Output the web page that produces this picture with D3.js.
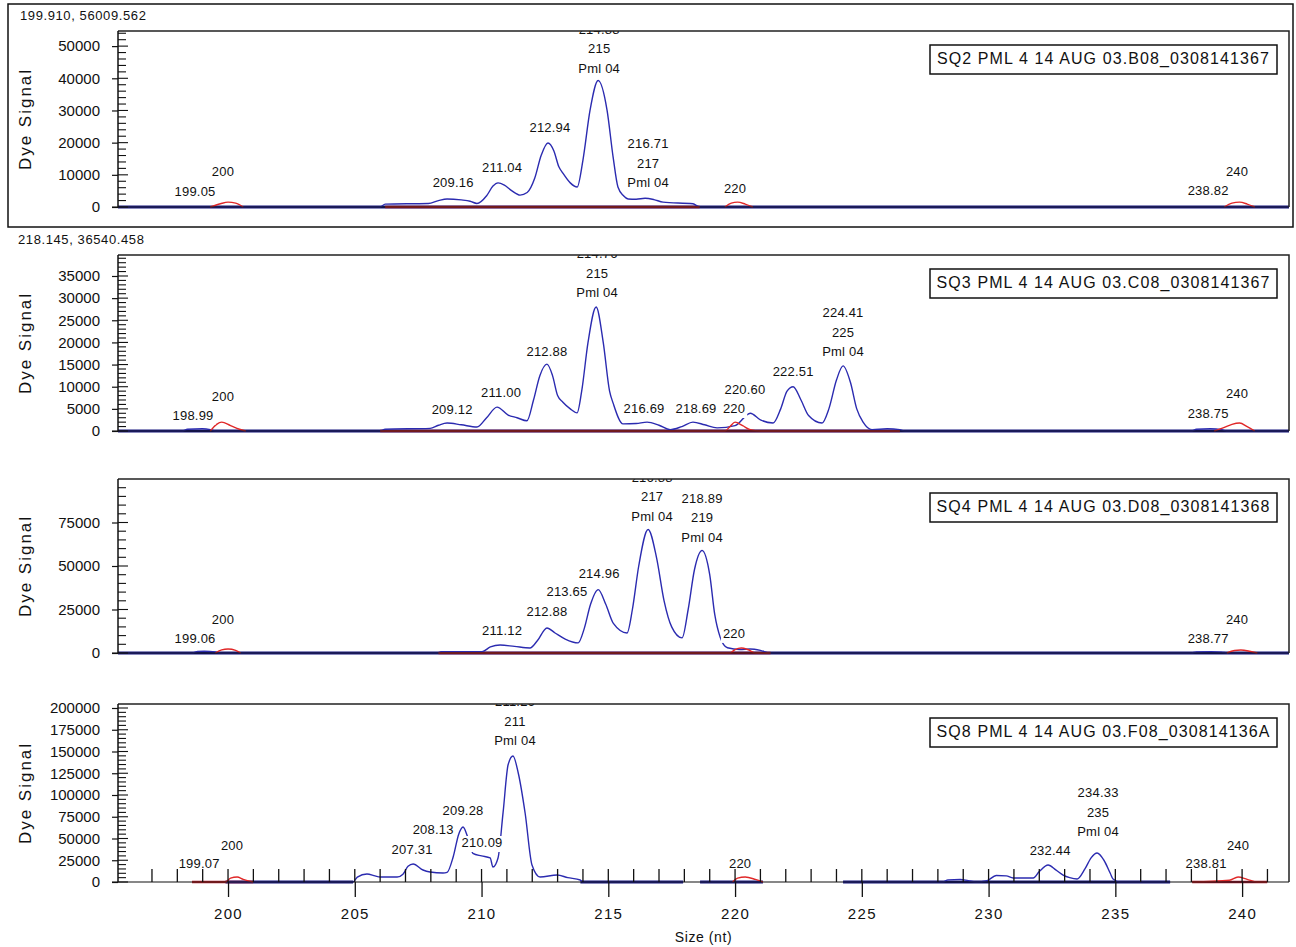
<!DOCTYPE html>
<html>
<head>
<meta charset="utf-8">
<script src="https://cdn.jsdelivr.net/npm/d3@7"></script>
<style>
  body { margin: 0; background: #fff; }
  svg text { font-family: "Liberation Sans", Arial, sans-serif; fill: #111; }
</style>
</head>
<body>
<svg id="chart" width="1296" height="947"></svg>
<script>
// ---- data ----
const sizeDomain = [195.66, 241.85];
const xTickLabels = [200, 205, 210, 215, 220, 225, 230, 235, 240];

const sampleNames = [
  "SQ2 PML 4 14 AUG 03.B08_0308141367",
  "SQ3 PML 4 14 AUG 03.C08_0308141367",
  "SQ4 PML 4 14 AUG 03.D08_0308141368",
  "SQ8 PML 4 14 AUG 03.F08_030814136A"
];
const headerTexts = ["199.910, 56009.562", "218.145, 36540.458", "", ""];

const yMaxima = [54700, 39740, 100000, 204600];
const yTickValues = [
  [0, 10000, 20000, 30000, 40000, 50000],
  [0, 5000, 10000, 15000, 20000, 25000, 30000, 35000],
  [0, 25000, 50000, 75000],
  [0, 25000, 50000, 75000, 100000, 125000, 150000, 175000, 200000]
];
const yMinorSteps = [2000, 1000, 5000, 5000];

// blue dye traces [size (nt), signal]; null = no trace drawn
const blueSQ2 = [[195.66,0],[206.0,0],[206.2,900],[207.9,1100],[208.3,2000],[208.64,2500],[209.2,2200],[209.55,1800],[209.82,1100],
  [210.2,3500],[210.45,6500],[210.65,7500],[210.9,6800],[211.2,5000],[211.52,3700],[211.8,4500],[212.1,9000],[212.35,16000],
  [212.62,19900],[212.85,17500],[213.05,12500],[213.21,10500],[213.5,7500],[213.77,6200],[214.0,14600],[214.28,30100],
  [214.6,39300],[214.95,30100],[215.19,15500],[215.38,6200],[215.6,3500],[215.78,2500],[216.1,2400],[216.45,2700],
  [216.8,2300],[217.16,1500],[218.34,1000],[218.6,0],[241.85,0]];
const blueSQ3 = [[195.66,0],[198.2,0],[198.4,400],[198.99,500],[199.3,300],[199.5,0],[206.0,0],[206.2,400],[207.97,600],
  [208.3,1300],[208.64,1800],[209.2,1400],[209.82,900],[210.2,3000],[210.61,5400],[211.05,3600],[211.4,3000],[211.79,2300],
  [212.05,7000],[212.3,12500],[212.58,15100],[212.8,12500],[213.0,8000],[213.21,6500],[213.5,5000],[213.77,4100],
  [213.95,9000],[214.2,20000],[214.52,28000],[214.8,20000],[215.05,9000],[215.19,6300],[215.58,1600],[216.1,1700],
  [216.53,2000],[217.0,1300],[217.44,300],[217.9,1000],[218.34,2000],[218.8,1400],[219.29,700],[220.0,1200],[220.6,4000],
  [221.0,2500],[221.5,1800],[221.8,5000],[222.05,9000],[222.29,10000],[222.6,7000],[222.9,3500],[223.43,1800],[223.7,5000],
  [224.0,11500],[224.26,14700],[224.55,11000],[224.8,5000],[225.05,2000],[225.4,300],[226.0,500],[226.5,300],[226.7,0],
  [238.0,0],[238.2,400],[238.75,500],[239.2,300],[239.4,0],[241.85,0]];
const blueSQ4 = [[195.66,0],[198.6,0],[198.8,900],[199.06,1000],[199.5,600],[199.7,0],[208.3,0],[208.4,700],[210.02,800],
  [210.35,3500],[210.73,4600],[211.3,3800],[211.91,2900],[212.2,7000],[212.58,14400],[212.9,11500],[213.3,8000],[213.81,5800],
  [214.05,14000],[214.3,28000],[214.6,36400],[214.9,28000],[215.2,17000],[215.74,11500],[215.95,25000],[216.2,50000],
  [216.57,71000],[216.9,55000],[217.2,30000],[217.5,15000],[217.91,8700],[218.15,25000],[218.4,48000],[218.7,58900],
  [219.0,45000],[219.2,22000],[219.41,9200],[219.7,3000],[220.2,2000],[220.59,2300],[221.0,1500],[221.38,0],[238.0,0],
  [238.2,600],[238.77,800],[239.2,500],[239.4,0],[241.85,0]];
const blueSQ8 = [[199.9,0],[204.93,0],[205.1,5700],[205.48,9200],[205.8,7000],[206.0,5700],[206.67,5700],[206.9,9000],
  [207.1,18000],[207.3,20700],[207.69,13800],[207.97,11500],[208.48,10300],[208.64,11000],[208.88,28700],[209.1,55000],
  [209.27,63200],[209.45,52000],[209.66,33000],[210.0,30000],[210.34,27600],[210.45,17200],[210.65,27600],[210.85,80000],
  [211.05,135000],[211.24,144800],[211.45,125000],[211.72,79000],[211.99,19500],[212.31,5700],[212.98,8000],[213.4,5000],
  [213.89,2300],[214.0,0],[217.95,0],null,[218.62,0],[221.1,0],null,[224.26,0],[228.2,0],[228.4,2500],[228.88,3000],
  [229.2,1500],[229.5,0],[229.94,1500],[230.3,7500],[230.7,7000],[230.97,4600],[231.76,4600],[232.0,12000],[232.35,19500],
  [232.65,14000],[232.94,8000],[233.2,5000],[233.49,3400],[233.8,15000],[234.05,28000],[234.28,33300],[234.55,25000],
  [234.8,10000],[234.91,3400],[235.19,0],[237.16,0]];

// red size-standard traces
const redSQ2 = [[199.3,0],[199.7,1000],[200.0,1500],[200.3,1200],[200.6,0],null,[206.2,0],[218.6,0],null,
  [219.6,0],[219.85,1200],[220.1,1500],[220.4,900],[220.7,0],null,[239.3,0],[239.6,1200],[239.9,1500],[240.2,900],[240.5,0]];
const redSQ3 = [[199.3,0],[199.55,1500],[199.75,2000],[200.1,1200],[200.45,400],[200.7,0],null,[206.0,0],[219.6,0],
  [219.8,1000],[220.0,2000],[220.3,1200],[220.6,300],[221.0,0],[226.5,0],null,[238.9,0],[239.3,800],[239.6,1500],
  [239.9,1800],[240.2,1000],[240.5,0]];
const redSQ4 = [[199.5,0],[199.75,1800],[200.0,2300],[200.3,1500],[200.5,0],null,[208.3,0],[219.8,0],[220.0,2000],
  [220.25,2900],[220.5,2000],[220.8,0],[221.4,0],null,[239.4,0],[239.7,1400],[239.95,1700],[240.3,1000],[240.6,0]];
const redSQ8 = [[198.58,0],[199.9,0],[200.1,4500],[200.36,5700],[200.6,3000],[200.99,0],null,[219.9,0],[220.1,4500],
  [220.4,5700],[220.8,3000],[221.1,0],null,[238.03,0],[239.5,2000],[239.84,5700],[240.2,3000],[240.6,0],[240.99,0]];

// flat baseline stretches [from, to] in nt
const blueBaseSQ2 = [[195.66, 241.85]];
const blueBaseSQ3 = [[195.66, 241.85]];
const blueBaseSQ4 = [[195.66, 241.85]];
const blueBaseSQ8 = [[199.9, 204.93], [213.9, 217.95], [218.62, 221.1], [224.26, 237.16]];
const redBaseSQ2 = [[206.2, 218.6]];
const redBaseSQ3 = [[206.0, 226.5]];
const redBaseSQ4 = [[208.3, 221.4]];
const redBaseSQ8 = [[198.58, 200.99], [238.03, 240.99]];

// peak labels: [size, signal at label foot, lines top->bottom]
const labelsSQ2 = [
  [199.80, 10560, ["200"]], [198.70, 4350, ["199.05"]], [208.88, 7140, ["209.16"]], [210.81, 11800, ["211.04"]],
  [212.70, 24530, ["212.94"]], [214.64, 42860, ["214.88", "215", "Pml 04"]], [216.57, 7140, ["216.71", "217", "Pml 04"]],
  [220.00, 5280, ["220"]], [239.80, 10560, ["240"]], [238.66, 4660, ["238.82"]]
];
const labelsSQ3 = [
  [199.80, 7450, ["200"]], [198.62, 3160, ["198.99"]], [208.84, 4520, ["209.12"]], [210.77, 8360, ["211.00"]],
  [212.58, 17620, ["212.88"]], [214.56, 30940, ["214.76", "215", "Pml 04"]], [216.41, 4740, ["216.69"]],
  [218.46, 4740, ["218.69"]], [219.96, 4740, ["220"]], [220.39, 9030, ["220.60"]], [222.29, 13100, ["222.51"]],
  [224.26, 17620, ["224.41", "225", "Pml 04"]], [239.80, 8130, ["240"]], [238.66, 3610, ["238.75"]]
];
const labelsSQ4 = [
  [199.80, 18480, ["200"]], [198.70, 7500, ["199.06"]], [210.81, 12120, ["211.12"]], [212.58, 23100, ["212.88"]],
  [213.37, 34640, ["213.65"]], [214.64, 45030, ["214.96"]], [216.73, 77940, ["216.88", "217", "Pml 04"]],
  [218.70, 65820, ["218.89", "219", "Pml 04"]], [219.96, 10390, ["220"]], [239.80, 18480, ["240"]],
  [238.66, 7500, ["238.77"]]
];
const labelsSQ8 = [
  [200.16, 40230, ["200"]], [198.86, 19540, ["199.07"]], [207.26, 35630, ["207.31"]], [208.09, 58620, ["208.13"]],
  [209.27, 80460, ["209.28"]], [210.02, 43680, ["210.09"]], [211.32, 160900, ["211.26", "211", "Pml 04"]],
  [220.20, 19540, ["220"]], [232.43, 34480, ["232.44"]], [234.32, 56320, ["234.33", "235", "Pml 04"]],
  [239.84, 40230, ["240"]], [238.58, 19540, ["238.81"]]
];

const panels = [
  { blue: blueSQ2, red: redSQ2, blueBase: blueBaseSQ2, redBase: redBaseSQ2, labels: labelsSQ2 },
  { blue: blueSQ3, red: redSQ3, blueBase: blueBaseSQ3, redBase: redBaseSQ3, labels: labelsSQ3 },
  { blue: blueSQ4, red: redSQ4, blueBase: blueBaseSQ4, redBase: redBaseSQ4, labels: labelsSQ4 },
  { blue: blueSQ8, red: redSQ8, blueBase: blueBaseSQ8, redBase: redBaseSQ8, labels: labelsSQ8 }
];

// ---- layout ----
const plotLeft = 118, plotRight = 1289;
const panelTops = [31, 255, 479, 704];
const panelHeights = [176, 176, 174, 178];
const blueColor = "#2b2bb0", baseColor = "#16167e", redColor = "#e02828", redBaseColor = "#a81830";

const svg = d3.select("#chart");
const x = d3.scaleLinear().domain(sizeDomain).range([plotLeft, plotRight]);

// outer frame of the active (first) panel
svg.append("rect")
  .attr("x", 8).attr("y", 4).attr("width", 1285).attr("height", 223)
  .attr("fill", "none").attr("stroke", "#111").attr("stroke-width", 1.5);

panels.forEach((p, i) => {
  const top = panelTops[i], h = panelHeights[i], base = top + h;
  const y = d3.scaleLinear().domain([0, yMaxima[i]]).range([base, top]);
  const g = svg.append("g");

  const clipId = "clip" + i;
  svg.append("clipPath").attr("id", clipId)
    .append("rect").attr("x", plotLeft).attr("y", top)
    .attr("width", plotRight - plotLeft).attr("height", h + 20);
  const inner = g.append("g").attr("clip-path", `url(#${clipId})`);

  // header text (cursor readout)
  if (headerTexts[i]) {
    g.append("text").attr("x", i === 0 ? 20 : 18).attr("y", top - 14)
      .attr("dominant-baseline", "middle")
      .style("font-size", "13px").style("letter-spacing", "0.6px")
      .text(headerTexts[i]);
  }

  // x axis line (thin)
  g.append("line").attr("x1", plotLeft - 6).attr("x2", plotRight)
    .attr("y1", base).attr("y2", base).attr("stroke", "#111").attr("stroke-width", 1.2);

  // thick flat baselines
  const baseLine = d3.line().x(d => x(d)).y(base);
  p.blueBase.forEach(seg => {
    inner.append("path").attr("d", baseLine(seg))
      .attr("stroke", baseColor).attr("stroke-width", 3).attr("fill", "none");
  });
  p.redBase.forEach(seg => {
    inner.append("path").attr("d", baseLine(seg))
      .attr("stroke", redBaseColor).attr("stroke-width", 2.5).attr("fill", "none");
  });

  const trace = d3.line()
    .defined(d => d !== null)
    .x(d => x(d[0]))
    .y(d => y(d[1]))
    .curve(d3.curveMonotoneX);

  inner.append("path").datum(p.blue)
    .attr("fill", "none").attr("stroke", blueColor).attr("stroke-width", 1.4)
    .attr("d", trace);
  inner.append("path").datum(p.red)
    .attr("fill", "none").attr("stroke", redColor).attr("stroke-width", 1.4)
    .attr("d", trace);

  // peak labels with opaque backgrounds
  p.labels.forEach(([s, v, lines]) => {
    const cx = x(s), cy = y(v);
    lines.slice().reverse().forEach((txt, k) => {
      const ly = cy - k * 19.5;
      const lg = inner.append("g");
      const bg = lg.append("rect").attr("fill", "#fff");
      const t = lg.append("text").attr("x", cx).attr("y", ly)
        .attr("text-anchor", "middle").attr("dominant-baseline", "middle")
        .style("font-size", "13px").style("letter-spacing", "0.2px")
        .text(txt);
      const w = t.node().getComputedTextLength();
      bg.attr("x", cx - w / 2 - 2).attr("y", ly - 8).attr("width", w + 4).attr("height", 16);
    });
  });

  // plot frame: top and right edges
  g.append("path")
    .attr("d", `M${plotLeft},${top}H${plotRight}V${base}`)
    .attr("fill", "none").attr("stroke", "#222").attr("stroke-width", 1.5);

  // y axis
  const yAxis = d3.axisLeft(y).tickValues(yTickValues[i]).tickSize(6).tickPadding(12)
    .tickFormat(d3.format("d"));
  const ya = g.append("g").attr("transform", `translate(${plotLeft},0)`).call(yAxis);
  ya.select(".domain").remove();
  ya.selectAll(".tick line").attr("stroke", "#111").attr("stroke-width", 1.2);
  ya.selectAll(".tick text").style("font-size", "15px").style("letter-spacing", "0px")
    .style("font-family", '"Liberation Sans", Arial, sans-serif').attr("fill", "#111");
  g.append("line").attr("x1", plotLeft).attr("x2", plotLeft).attr("y1", top).attr("y2", base)
    .attr("stroke", "#111").attr("stroke-width", 1.5);
  const minor = d3.range(0, yMaxima[i], yMinorSteps[i]);
  g.selectAll(null).data(minor).enter().append("line")
    .attr("x1", plotLeft).attr("x2", d => yTickValues[i].includes(d) ? plotLeft + 10 : plotLeft + 8)
    .attr("y1", d => y(d)).attr("y2", d => y(d))
    .attr("stroke", "#111").attr("stroke-width", 1.1);

  g.append("text")
    .attr("transform", `translate(27,${top + h / 2}) rotate(-90)`)
    .attr("text-anchor", "middle").attr("dominant-baseline", "middle")
    .style("font-size", "17px").style("letter-spacing", "2px")
    .text("Dye Signal");

  // sample name box
  const boxTop = top + 14;
  g.append("rect").attr("x", 930).attr("y", boxTop).attr("width", 347).attr("height", 29)
    .attr("fill", "#fff").attr("stroke", "#111").attr("stroke-width", 1.5);
  g.append("text").attr("x", 1103.5).attr("y", boxTop + 15)
    .attr("text-anchor", "middle").attr("dominant-baseline", "middle")
    .style("font-size", "16px").style("letter-spacing", "1.1px")
    .text(sampleNames[i]);

  // size axis on the last panel
  if (i === panels.length - 1) {
    const xAxis = d3.axisBottom(x).tickValues(xTickLabels).tickSize(15).tickPadding(11);
    const xa = g.append("g").attr("transform", `translate(0,${base})`).call(xAxis);
    xa.select(".domain").remove();
    xa.selectAll(".tick line").attr("stroke", "#111").attr("stroke-width", 1.3);
    xa.selectAll(".tick text").style("font-size", "15px").style("letter-spacing", "1.3px")
      .style("font-family", '"Liberation Sans", Arial, sans-serif').attr("fill", "#111");
    g.selectAll(null).data(d3.range(197, 242)).enter().append("line")
      .attr("x1", d => x(d)).attr("x2", d => x(d))
      .attr("y1", base - 13).attr("y2", base)
      .attr("stroke", "#111").attr("stroke-width", 1.3);
    g.append("text").attr("x", (plotLeft + plotRight) / 2).attr("y", base + 56)
      .attr("text-anchor", "middle").attr("dominant-baseline", "middle")
      .style("font-size", "14px").style("letter-spacing", "0.6px")
      .text("Size (nt)");
  }
});
</script>
</body>
</html>
